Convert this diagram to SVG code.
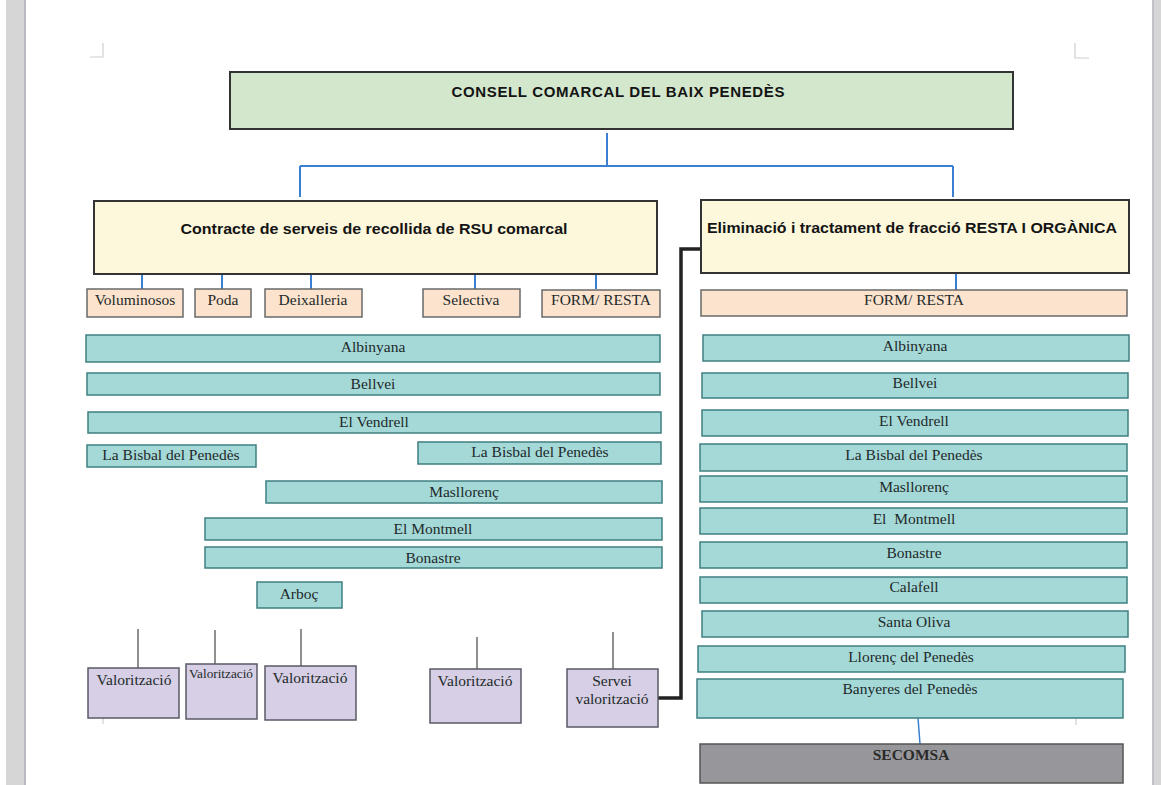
<svg xmlns="http://www.w3.org/2000/svg" width="1161" height="785" viewBox="0 0 1161 785">
<style>
.hd{font-family:"Liberation Sans",Arial,sans-serif;font-weight:bold;fill:#141414;text-anchor:middle}
.sf{font-family:"Liberation Serif","Times New Roman",serif;font-size:15.5px;fill:#1e2a2a;text-anchor:middle}
.green{fill:#d3e7cd;stroke:#333;stroke-width:2}
.yel{fill:#fdf8dc;stroke:#333;stroke-width:2}
.peach{fill:#fbe3cd;stroke:#6a6a6a;stroke-width:1.5}
.teal{fill:#a5d9d8;stroke:#3f7f80;stroke-width:1.5}
.lav{fill:#d6cfe5;stroke:#5a5a66;stroke-width:1.5}
.grey{fill:#97979b;stroke:#555;stroke-width:1.5}
.blue{fill:none;stroke:#3a7fd0;stroke-width:2}
.thin{fill:none;stroke:#555;stroke-width:1.3}
.mark{fill:none;stroke:#cfcfcf;stroke-width:1.2}
</style>
<rect x="0" y="0" width="1161" height="785" fill="#ffffff"/>
<rect x="6" y="0" width="20" height="785" fill="#d6d6d6"/>
<rect x="24" y="0" width="2" height="785" fill="#b9b9c1"/>
<rect x="1152" y="0" width="9" height="785" fill="#d6d6d6"/>
<rect x="1152" y="0" width="2" height="785" fill="#c2c2c8"/>
<g id="marks">
<path class="mark" d="M103 43 V57 H90"/>
<path class="mark" d="M1075 43 V58 H1089"/>
<path class="mark" d="M103 718 V724"/>
<path class="mark" d="M1076 718 V725"/>
</g>
<g id="connectors">
<path class="blue" d="M607 133 V166 M300 166 H953 M300 166 V197 M953 166 V197"/>
<path class="blue" d="M142 274 V289 M222 274 V289 M311 274 V289 M475 274 V289 M596 274 V289"/>
<path class="blue" d="M956 273 V290"/>
<path class="blue" d="M918 718 L920 744" style="stroke-width:1.5"/>
<path class="thin" d="M138 629 V668 M215 630 V664 M301 629 V666 M477 637 V669 M613 632 V669"/>
<path d="M700 249 H681 V698 H658" fill="none" stroke="#222" stroke-width="3.5"/>
</g>
<g id="consell">
<rect class="green" x="230" y="72" width="783" height="57"/>
<text class="hd" x="618" y="97" style="font-size:15px" textLength="333" lengthAdjust="spacing">CONSELL COMARCAL DEL BAIX PENEDÈS</text>
</g>
<g id="contracte">
<rect class="yel" x="94" y="201" width="563" height="73"/>
<text class="hd" x="374" y="234" style="font-size:15.5px" textLength="387" lengthAdjust="spacingAndGlyphs">Contracte de serveis de recollida de RSU comarcal</text>
</g>
<g id="eliminacio">
<rect class="yel" x="701" y="200" width="428" height="73"/>
<text class="hd" x="912" y="233" style="font-size:15.5px" textLength="410" lengthAdjust="spacingAndGlyphs">Eliminació i tractament de fracció RESTA I ORGÀNICA</text>
</g>
<g id="voluminosos"><rect class="peach" x="87" y="289" width="96" height="28"/><text class="sf" x="135" y="305">Voluminosos</text></g>
<g id="poda"><rect class="peach" x="195" y="289" width="56" height="28"/><text class="sf" x="223" y="305">Poda</text></g>
<g id="deixalleria"><rect class="peach" x="265" y="289" width="97" height="28"/><text class="sf" x="313" y="305">Deixalleria</text></g>
<g id="selectiva"><rect class="peach" x="423" y="289" width="97" height="28"/><text class="sf" x="471" y="305">Selectiva</text></g>
<g id="form-l"><rect class="peach" x="542" y="290" width="118" height="27"/><text class="sf" x="601" y="305">FORM/ RESTA</text></g>
<g id="form-r"><rect class="peach" x="701" y="290" width="426" height="26"/><text class="sf" x="914" y="305">FORM/ RESTA</text></g>
<g id="l-albinyana"><rect class="teal" x="86" y="335" width="574" height="27"/><text class="sf" x="373" y="352">Albinyana</text></g>
<g id="l-bellvei"><rect class="teal" x="87" y="373" width="573" height="22"/><text class="sf" x="373" y="389">Bellvei</text></g>
<g id="l-vendrell"><rect class="teal" x="88" y="412" width="573" height="21"/><text class="sf" x="374" y="427">El Vendrell</text></g>
<g id="l-bisbal1"><rect class="teal" x="87" y="445" width="169" height="22"/><text class="sf" x="171" y="460">La Bisbal del Penedès</text></g>
<g id="l-bisbal2"><rect class="teal" x="418" y="442" width="243" height="22"/><text class="sf" x="540" y="457">La Bisbal del Penedès</text></g>
<g id="l-masllorenc"><rect class="teal" x="266" y="481" width="396" height="22"/><text class="sf" x="464" y="497">Masllorenç</text></g>
<g id="l-montmell"><rect class="teal" x="205" y="518" width="457" height="22"/><text class="sf" x="433" y="534">El Montmell</text></g>
<g id="l-bonastre"><rect class="teal" x="205" y="547" width="457" height="21"/><text class="sf" x="433" y="563">Bonastre</text></g>
<g id="l-arboc"><rect class="teal" x="257" y="582" width="85" height="26"/><text class="sf" x="299" y="599">Arboç</text></g>
<g id="r-albinyana"><rect class="teal" x="703" y="335" width="426" height="26"/><text class="sf" x="915" y="351">Albinyana</text></g>
<g id="r-bellvei"><rect class="teal" x="702" y="373" width="426" height="25"/><text class="sf" x="915" y="388">Bellvei</text></g>
<g id="r-vendrell"><rect class="teal" x="702" y="410" width="426" height="26"/><text class="sf" x="914" y="426">El Vendrell</text></g>
<g id="r-bisbal"><rect class="teal" x="700" y="444" width="427" height="27"/><text class="sf" x="914" y="460">La Bisbal del Penedès</text></g>
<g id="r-masllorenc"><rect class="teal" x="700" y="476" width="427" height="26"/><text class="sf" x="914" y="492">Masllorenç</text></g>
<g id="r-montmell"><rect class="teal" x="700" y="508" width="427" height="26"/><text class="sf" x="914" y="524" xml:space="preserve">El  Montmell</text></g>
<g id="r-bonastre"><rect class="teal" x="700" y="542" width="427" height="26"/><text class="sf" x="914" y="558">Bonastre</text></g>
<g id="r-calafell"><rect class="teal" x="700" y="577" width="427" height="26"/><text class="sf" x="914" y="592">Calafell</text></g>
<g id="r-santaoliva"><rect class="teal" x="702" y="611" width="426" height="26"/><text class="sf" x="914" y="627">Santa Oliva</text></g>
<g id="r-llorenc"><rect class="teal" x="698" y="646" width="427" height="26"/><text class="sf" x="911" y="662">Llorenç del Penedès</text></g>
<g id="r-banyeres"><rect class="teal" x="697" y="679" width="426" height="39"/><text class="sf" x="910" y="694">Banyeres del Penedès</text></g>
<g id="secomsa"><rect class="grey" x="700" y="744" width="423" height="39"/><text class="sf" x="911" y="760" style="font-weight:bold;fill:#2a2a2a">SECOMSA</text></g>
<g id="val1"><rect class="lav" x="88" y="668" width="91" height="50"/><text class="sf" x="134" y="685">Valorització</text></g>
<g id="val2"><rect class="lav" x="186" y="664" width="71" height="55"/><text class="sf" x="221" y="678" style="font-size:12px" textLength="64" lengthAdjust="spacingAndGlyphs">Valorització</text></g>
<g id="val3"><rect class="lav" x="265" y="666" width="91" height="54"/><text class="sf" x="310" y="683">Valorització</text></g>
<g id="val4"><rect class="lav" x="430" y="669" width="91" height="54"/><text class="sf" x="475" y="686">Valorització</text></g>
<g id="servei"><rect class="lav" x="567" y="669" width="91" height="58"/><text class="sf" x="612" y="686">Servei</text><text class="sf" x="612" y="704">valorització</text></g>
</svg>
